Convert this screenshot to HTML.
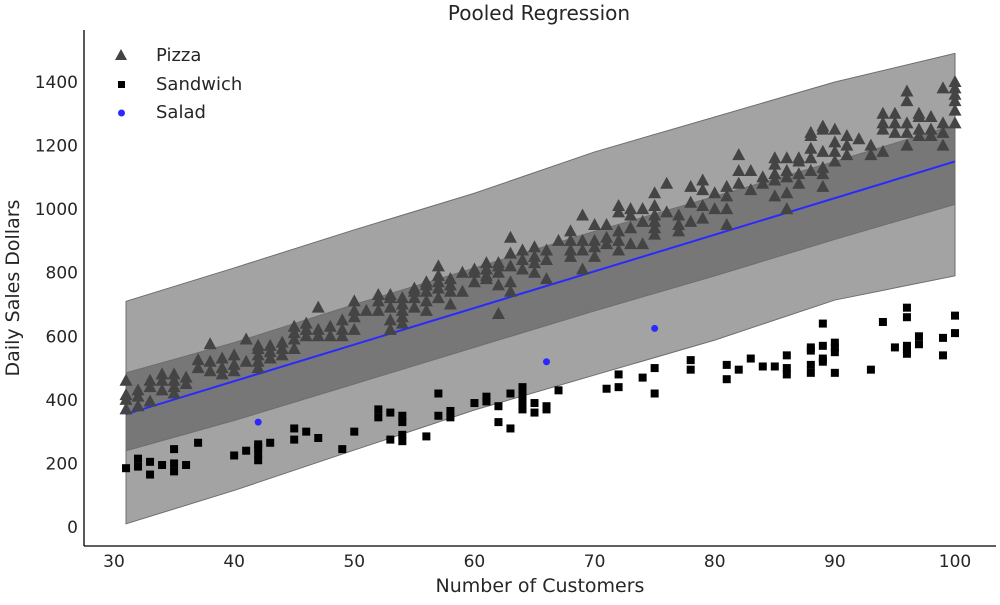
<!DOCTYPE html>
<html><head><meta charset="utf-8"><style>
body{margin:0;background:#fff}
svg text{font-family:"DejaVu Sans","Liberation Sans",sans-serif;fill:#262626}
</style></head><body>
<svg id="chart" width="1000" height="600" xmlns="http://www.w3.org/2000/svg">
<text x="539" y="20" text-anchor="middle" font-size="20">Pooled Regression</text>
<g id="bands"></g>
<g id="marks"></g>
<g id="axes"></g>
<text x="540" y="592" text-anchor="middle" font-size="19">Number of Customers</text>
<text transform="translate(19,288) rotate(-90)" text-anchor="middle" font-size="19">Daily Sales Dollars</text>
<g>
<g><polygon points="121,49 127,60 115,60" fill="#444"/><text x="156" y="61" font-size="18">Pizza</text></g>
<g><rect x="118" y="81" width="7" height="7" fill="#000"/><text x="156" y="90" font-size="18">Sandwich</text></g>
<g><circle cx="121.5" cy="113" r="3.5" fill="#2a2aff"/><text x="156" y="118" font-size="18">Salad</text></g>
</g>
</svg>
<script>
const bandX=[31,40,50,60,70,80,90,100];
const outerLow=[10,115,242,368,478,588,714,790];
const outerHigh=[710,815,935,1050,1180,1290,1400,1490];
const innerLow=[240,335,450,565,680,790,905,1015];
const innerHigh=[485,580,700,815,930,1040,1150,1265];
const lineX=[31,100];
const lineY=[355,1150];
const pizzaX=[31,31,31,31,32,32,32,33,33,33,34,34,34,35,35,35,35,36,36,37,37,38,38,38,39,39,39,40,40,40,41,41,42,42,42,42,42,43,43,43,44,44,44,45,45,45,45,46,46,46,47,47,47,48,48,49,49,49,50,50,50,50,51,52,52,52,53,53,53,53,53,54,54,54,54,54,55,55,55,55,56,56,56,56,56,57,57,57,57,57,58,58,58,58,59,59,60,60,60,61,61,61,61,62,62,62,62,62,63,63,63,63,63,64,64,64,65,65,65,65,66,66,66,67,68,68,68,68,69,69,69,69,70,70,70,70,71,71,71,72,72,72,72,72,73,73,73,73,74,74,74,75,75,75,75,75,75,76,76,77,77,77,78,78,78,79,79,79,79,80,80,81,81,81,81,82,82,82,83,83,84,84,85,85,85,85,85,86,86,86,86,86,87,87,87,87,88,88,88,88,88,89,89,89,89,89,89,90,90,90,90,91,91,91,92,93,93,94,94,94,94,95,95,95,96,96,96,96,96,97,97,97,97,98,98,98,99,99,99,99,100,100,100,100,100,100];
const pizzaY=[370,400,415,460,380,410,430,395,440,460,430,460,480,420,440,460,480,450,470,500,525,490,520,575,480,500,530,490,510,540,520,590,500,520,540,560,570,530,550,570,540,560,580,560,590,610,630,600,620,640,600,620,690,600,630,600,620,650,620,660,680,710,680,680,710,730,620,650,690,720,730,640,660,680,700,720,690,720,740,750,680,710,740,760,770,720,750,770,790,820,700,740,760,780,740,800,770,800,810,780,790,810,830,670,760,800,820,830,740,770,820,860,910,810,840,870,800,830,850,880,780,840,870,900,850,870,900,930,810,870,900,980,850,880,900,950,890,910,950,870,900,930,990,1010,890,940,980,1000,890,960,1000,920,940,960,980,1010,1050,990,1080,930,950,980,960,1020,1070,970,1010,1060,1090,1000,1050,950,1000,1040,1070,1080,1120,1170,1060,1120,1080,1100,1040,1090,1110,1140,1160,1000,1050,1100,1120,1160,1080,1110,1150,1160,1120,1160,1190,1230,1240,1070,1110,1130,1180,1250,1260,1150,1180,1210,1250,1170,1200,1230,1220,1170,1200,1180,1250,1270,1300,1240,1270,1300,1200,1240,1270,1340,1370,1230,1250,1290,1300,1230,1250,1290,1200,1240,1270,1380,1270,1310,1340,1360,1380,1400];
const sandX=[31,32,32,33,33,34,35,35,35,36,37,40,41,42,42,42,42,43,45,45,46,47,49,50,52,52,53,53,54,54,54,54,56,57,57,58,58,60,61,61,62,62,63,63,64,64,64,64,64,65,65,66,66,67,71,72,72,74,75,75,78,78,81,81,82,83,84,85,86,86,86,88,88,88,88,89,89,89,89,90,90,90,90,93,94,95,96,96,96,96,96,97,97,99,99,100,100];
const sandY=[185,190,215,165,205,195,175,200,245,195,265,225,240,210,230,250,260,265,275,310,300,280,245,300,345,370,275,360,270,290,330,350,285,350,420,345,365,390,395,410,330,380,310,420,370,380,400,420,440,360,390,370,380,430,435,440,480,470,420,500,495,525,465,510,495,530,505,505,480,500,540,485,510,555,565,520,530,570,640,485,550,565,580,495,645,565,545,560,570,660,690,575,600,540,595,610,665];
const saladX=[42,66,75];
const saladY=[330,520,625];
const xTicks=[30,40,50,60,70,80,90,100];
const yTicks=[0,200,400,600,800,1000,1200,1400];

const NS='http://www.w3.org/2000/svg';
const sx=v=>114+(v-30)*(955-114)/70;
const sy=v=>527-v*(527-82)/1400;
function mk(tag,attrs,parent){const e=document.createElementNS(NS,tag);for(const k in attrs)e.setAttribute(k,attrs[k]);parent.appendChild(e);return e;}
const bands=document.getElementById('bands'),marks=document.getElementById('marks'),axes=document.getElementById('axes');
function band(lo,hi,fill,name){
  let d='M'+bandX.map((x,i)=>sx(x)+','+sy(hi[i])).join('L');
  d+='L'+bandX.slice().reverse().map((x,i)=>sx(x)+','+sy(lo[lo.length-1-i])).join('L')+'Z';
  const p=mk('path',{d:d,fill:fill,stroke:'#6e6e6e','stroke-width':1},bands);
  
  
}
band(outerLow,outerHigh,'#a3a3a3','outer-hdi-band');
band(innerLow,innerHigh,'#777777','inner-hdi-band');
const ln=mk('line',{x1:sx(lineX[0]),y1:sy(lineY[0]),x2:sx(lineX[1]),y2:sy(lineY[1]),stroke:'#2a2aff','stroke-width':2},bands);


pizzaX.forEach((x,i)=>{const cx=sx(x),cy=sy(pizzaY[i]);
  const t=mk('polygon',{points:`${cx},${cy-7} ${cx+6.5},${cy+5} ${cx-6.5},${cy+5}`,fill:'#444'},marks);
  
  });
sandX.forEach((x,i)=>{const cx=sx(x),cy=sy(sandY[i]);
  const r=mk('rect',{x:cx-4,y:cy-4,width:8,height:8,fill:'#000'},marks);
  
  });
saladX.forEach((x,i)=>{
  const c=mk('circle',{cx:sx(x),cy:sy(saladY[i]),r:3.5,fill:'#2a2aff'},marks);
  
  });
const s1=mk('line',{x1:84,y1:30,x2:84,y2:546,stroke:'#000','stroke-width':1.3},axes);


const s2=mk('line',{x1:84,y1:546,x2:996,y2:546,stroke:'#000','stroke-width':1.3},axes);


xTicks.forEach(v=>{const t=mk('text',{x:sx(v),y:567,'text-anchor':'middle','font-size':17},axes);t.textContent=v;
  
  });
yTicks.forEach(v=>{const t=mk('text',{x:78,y:sy(v)+6,'text-anchor':'end','font-size':17},axes);t.textContent=v;
  
  });
</script>
</body></html>
